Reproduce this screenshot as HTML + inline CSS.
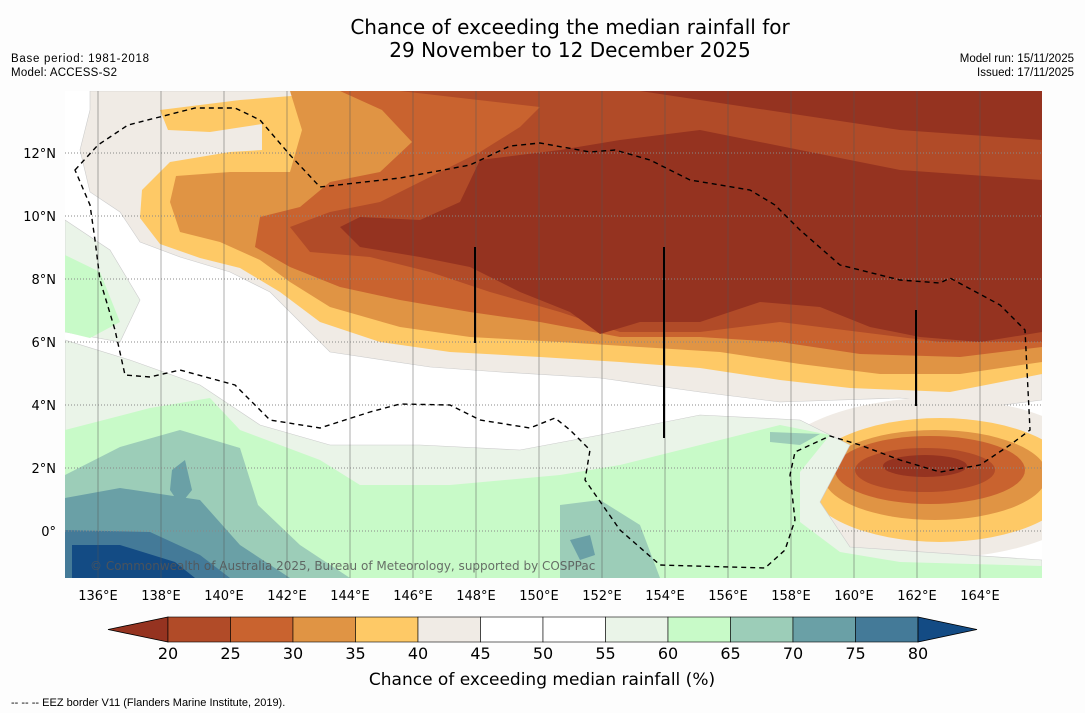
<!DOCTYPE html>
<html><head><meta charset="utf-8"><style>
body{margin:0;background:#fdfdfd;width:1085px;height:713px;overflow:hidden;font-family:"DejaVu Sans","Liberation Sans",sans-serif}
svg{position:absolute;left:0;top:0}
</style></head><body>
<svg width="1085" height="713" id="s">
<rect width="1085" height="713" fill="#fdfdfd"/>
<text x="570" y="34" text-anchor="middle" font-size="20">Chance of exceeding the median rainfall for</text>
<text x="570" y="57" text-anchor="middle" font-size="20">29 November to 12 December 2025</text>
<text x="11" y="62" font-size="11.5" font-family="Liberation Sans" textLength="138">Base period: 1981-2018</text>
<text x="11" y="76" font-size="11.5" font-family="Liberation Sans" textLength="106">Model: ACCESS-S2</text>
<text x="1074" y="62" font-size="11.5" font-family="Liberation Sans" text-anchor="end">Model run: 15/11/2025</text>
<text x="1074" y="76" font-size="11.5" font-family="Liberation Sans" text-anchor="end">Issued: 17/11/2025</text>
<defs><clipPath id="mc"><rect x="65" y="91" width="977" height="487"/></clipPath></defs>
<g clip-path="url(#mc)" id="map">
<rect x="65" y="91" width="977" height="487" fill="#ffffff"/>
<path fill="#f0ebe5" stroke="#ccc" stroke-width="0.6" d="M90,91 L1042,91 L1042,400 L980,408 L900,398 L780,402 L700,392 L600,378 L500,372 L430,367 L330,352 L300,322 L270,292 L230,272 L180,257 L140,242 L120,212 L90,192 L80,150 L90,110 Z"/>
<path fill="#fec966" d="M160,110 L240,100 L330,93 L1042,91 L1042,374 L950,392 L850,388 L780,380 L700,368 L620,362 L540,357 L450,352 L380,342 L320,322 L280,292 L240,268 L200,258 L160,244 L140,218 L142,190 L170,162 L230,152 L262,150 L262,124 L210,132 L168,130 Z"/>
<path fill="#e09444" d="M290,91 L1042,91 L1042,362 L960,374 L880,374 L800,364 L720,352 L640,347 L560,342 L470,337 L400,327 L330,307 L290,282 L260,260 L220,242 L180,232 L170,202 L176,176 L230,172 L290,172 L302,130 Z"/>
<path fill="#c9632f" d="M340,91 L1042,91 L1042,347 L960,357 L860,354 L780,342 L700,337 L620,337 L540,322 L470,312 L400,300 L340,287 L290,267 L255,247 L260,217 L300,207 L330,182 L380,172 L412,142 L382,110 Z"/>
<path fill="#b14b28" d="M400,91 L1042,91 L1042,342 L940,342 L860,332 L780,322 L700,332 L620,332 L560,312 L490,292 L430,272 L370,257 L310,252 L290,227 L330,212 L380,202 L440,172 L480,152 L520,127 L540,107 Z"/>
<path fill="#953320" d="M480,160 L560,150 L620,140 L700,130 L800,150 L900,170 L1042,180 L1042,332 L980,342 L920,337 L870,327 L820,307 L760,302 L700,322 L640,322 L600,334 L570,312 L520,292 L470,267 L420,257 L360,247 L340,227 L360,217 L420,220 L460,202 Z"/>
<path fill="#953320" d="M640,91 L1042,91 L1042,140 L900,130 L800,115 L700,100 Z"/>
<ellipse cx="935" cy="478" rx="170" ry="80" fill="#f0ebe5"/>
<ellipse cx="940" cy="480" rx="135" ry="62" fill="#fec966"/>
<ellipse cx="935" cy="475" rx="112" ry="45" fill="#e09444"/>
<ellipse cx="930" cy="470" rx="95" ry="34" fill="#c9632f"/>
<ellipse cx="925" cy="470" rx="70" ry="22" fill="#b14b28"/>
<ellipse cx="925" cy="466" rx="42" ry="11" fill="#953320"/>
<path fill="#eaf4e8" stroke="#ccc" stroke-width="0.6" d="M65,340 L130,360 L200,385 L260,425 L330,445 L420,445 L520,450 L600,435 L700,415 L800,420 L850,445 L820,502 L850,547 L1042,560 L1042,578 L65,578 Z M65,220 L110,250 L140,300 L120,342 L65,332 Z"/>
<path fill="#c8fac8" d="M65,430 L150,408 L210,398 L240,430 L320,460 L360,485 L450,485 L560,475 L620,465 L700,445 L780,425 L830,435 L800,472 L800,522 L840,552 L900,562 L1042,566 L1042,578 L65,578 Z M65,255 L100,272 L120,322 L90,338 L65,332 Z"/>
<path fill="#9ccdb8" d="M65,475 L120,447 L180,430 L240,448 L258,505 L300,545 L350,578 L65,578 Z M560,505 L600,500 L640,525 L660,578 L560,578 Z M770,432 L820,434 L800,445 L770,442 Z"/>
<path fill="#6aa0a6" d="M65,498 L120,488 L200,500 L240,545 L290,578 L65,578 Z M172,470 L185,460 L192,490 L180,505 L170,490 Z M570,540 L590,535 L595,555 L580,560 Z"/>
<path fill="#447a98" d="M65,530 L150,532 L200,555 L230,578 L65,578 Z"/>
<path fill="#134b84" d="M72,545 L120,545 L175,562 L195,578 L72,578 Z"/>
<g id="grid"></g>
<path fill="none" stroke="#000" stroke-width="1.4" stroke-dasharray="5,4" d="M75,170 L98,145 L128,125 L195,108 L235,108 L260,120 L290,155 L320,187 L400,178 L470,165 L510,146 L540,143 L590,152 L615,150 L650,160 L690,180 L750,190 L775,205 L800,230 L840,265 L900,280 L940,283 L950,278 L1000,305 L1025,330 L1030,430 L1010,445 L980,465 L940,472 L900,460 L860,445 L830,436 L795,452 L790,475 L795,520 L785,550 L765,568 L660,565 L620,530 L585,480 L590,450 L570,430 L555,418 L530,428 L480,420 L450,405 L400,404 L370,412 L320,428 L270,420 L250,400 L235,385 L180,370 L150,377 L125,375 L115,330 L100,280 L95,240 L90,205 Z"/>
<line x1="475" y1="247" x2="475" y2="343" stroke="#000" stroke-width="2"/>
<line x1="664" y1="247" x2="664" y2="438" stroke="#000" stroke-width="2"/>
<line x1="916" y1="310" x2="916" y2="406" stroke="#000" stroke-width="2"/>
<text x="90" y="570" font-size="12" fill="#555" fill-opacity="0.85">© Commonwealth of Australia 2025, Bureau of Meteorology, supported by COSPPac</text>
</g>
<g id="axes"></g>
<g id="cbar"></g>
<text x="542" y="685" text-anchor="middle" font-size="17">Chance of exceeding median rainfall (%)</text>
<text x="11" y="706" font-size="11" font-family="Liberation Sans">--  --  -- EEZ border V11 (Flanders Marine Institute, 2019).</text>
</svg>
<script>
const lonTicks=[136,138,140,142,144,146,148,150,152,154,156,158,160,162,164];
const latTicks=[0,2,4,6,8,10,12];
const levels=[20,25,30,35,40,45,50,55,60,65,70,75,80];
const levelColors=['#b14b28','#c9632f','#e09444','#fec966','#f0ebe5','#ffffff','#ffffff','#eaf4e8','#c8fac8','#9ccdb8','#6aa0a6','#447a98'];
const lowColor='#953320', highColor='#134b84';
const NS='http://www.w3.org/2000/svg';
const xLon=l=>98+(l-136)*31.5, yLat=l=>531-l*31.5;
const cx=v=>168+(v-20)*12.5;
function mk(t,a,p){const e=document.createElementNS(NS,t);for(const k in a)e.setAttribute(k,a[k]);p.appendChild(e);return e;}
const grid=document.getElementById('grid'),axes=document.getElementById('axes'),cb=document.getElementById('cbar');
lonTicks.forEach(l=>{
 const g=mk('line',{x1:xLon(l),x2:xLon(l),y1:91,y2:578,stroke:'#555','stroke-width':0.8,'stroke-opacity':0.6},grid);
 
 
 const t=mk('text',{x:xLon(l),y:600,'text-anchor':'middle','font-size':13},axes);
 t.textContent=l+'°E';
 
 
});
latTicks.forEach(l=>{
 const g=mk('line',{x1:65,x2:1042,y1:yLat(l),y2:yLat(l),stroke:'#888','stroke-width':1,'stroke-dasharray':'1,2'},grid);
 
 
 const t=mk('text',{x:56,y:yLat(l)+5,'text-anchor':'end','font-size':13},axes);
 t.textContent=l===0?'0°':l+'°N';
 
 
});
const y0=617,y1=642;
const lt=mk('polygon',{points:`108,${(y0+y1)/2} ${cx(20)},${y0} ${cx(20)},${y1}`,fill:lowColor,stroke:'#000','stroke-width':0.8},cb);


for(let i=0;i<levelColors.length;i++){
 const r=mk('rect',{x:cx(levels[i]),y:y0,width:cx(levels[i+1])-cx(levels[i]),height:y1-y0,fill:levelColors[i],stroke:'#000','stroke-width':0.6},cb);
 
 
}
const rt=mk('polygon',{points:`${cx(80)},${y0} 977,${(y0+y1)/2} ${cx(80)},${y1}`,fill:highColor,stroke:'#000','stroke-width':0.8},cb);


levels.forEach(v=>{
 const t=mk('text',{x:cx(v),y:659,'text-anchor':'middle','font-size':16},cb);
 t.textContent=v;
 
 
});
</script>
</body></html>
